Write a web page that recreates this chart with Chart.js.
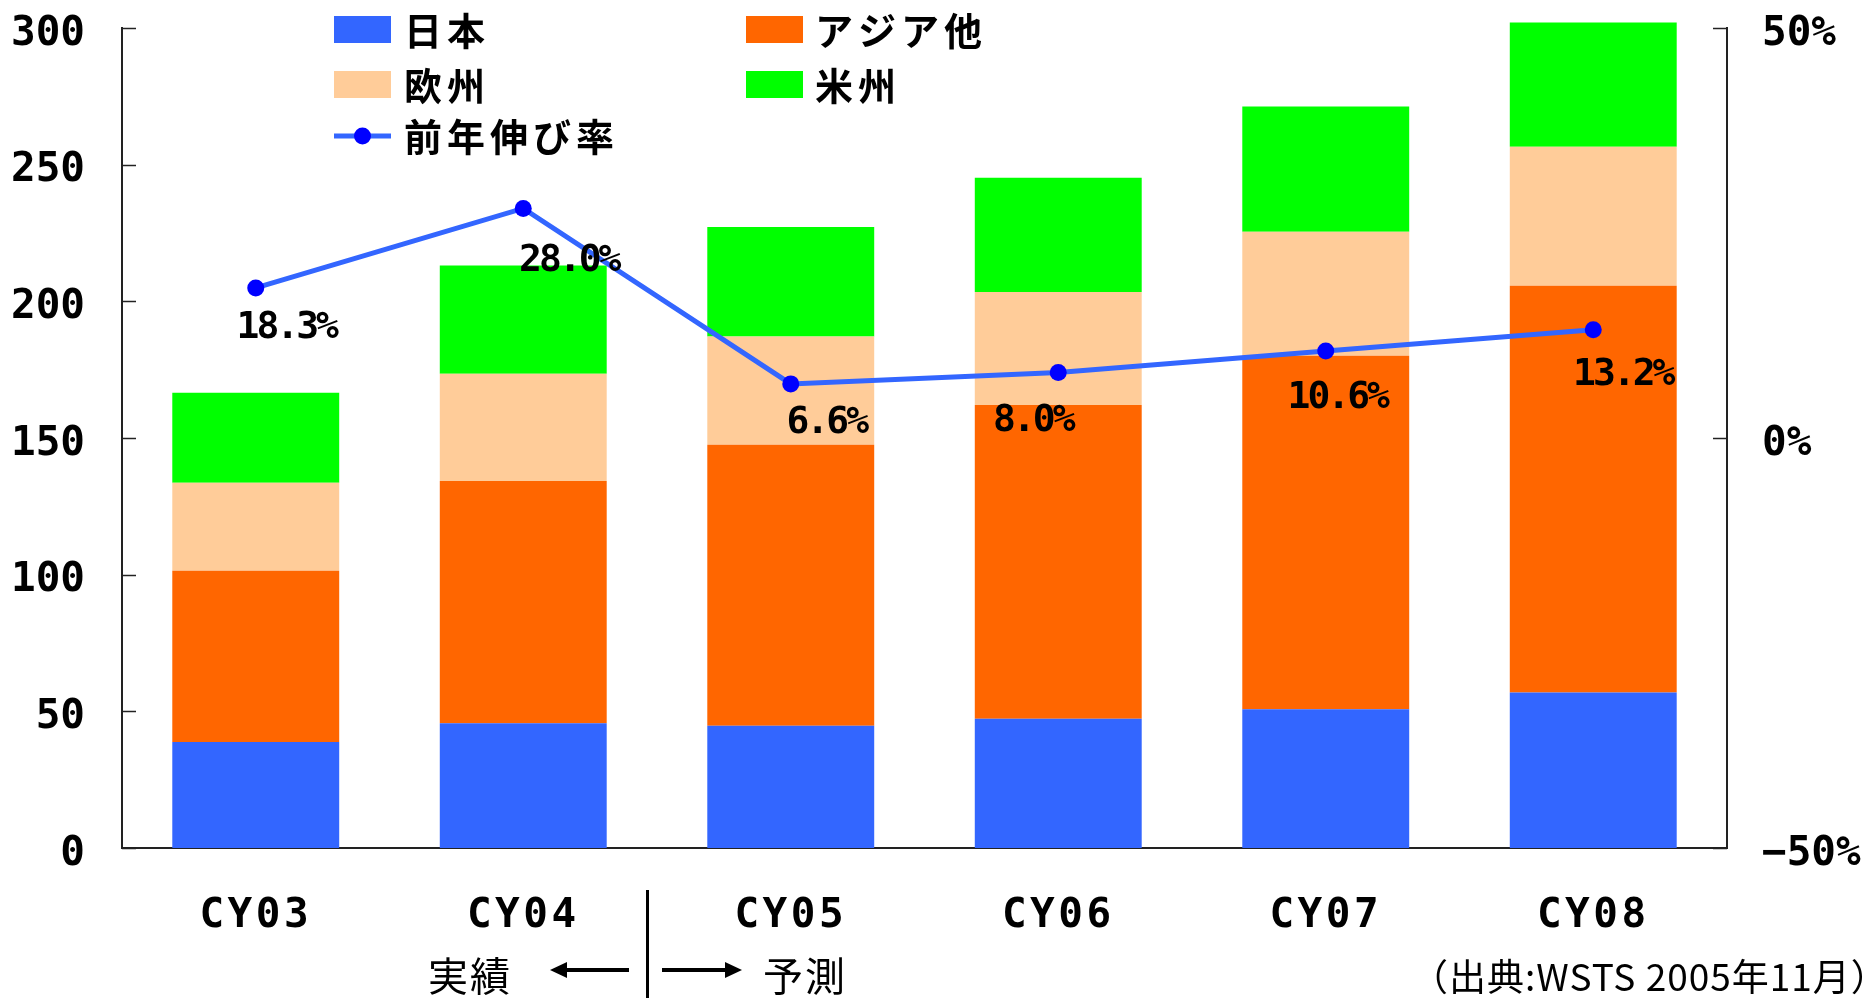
<!DOCTYPE html>
<html><head><meta charset="utf-8">
<script src="https://cdn.jsdelivr.net/npm/chart.js@4.4.1/dist/chart.umd.min.js"></script>
<style>html,body{margin:0;padding:0;background:#fff;overflow:hidden}</style>
</head><body>
<canvas id="c" width="1863" height="998" style="display:block;width:1863px;height:998px"></canvas>
<script>
const categories = ['CY03','CY04','CY05','CY06','CY07','CY08'];
const japan     = [38.8, 45.6, 44.7, 47.3, 50.8, 56.9];
const asiaOther = [62.6, 88.7, 102.8, 114.8, 129.3, 148.8];
const europe    = [32.2, 39.2, 39.6, 41.3, 45.4, 50.9];
const americas  = [33.0, 39.6, 40.1, 41.8, 45.8, 45.4];
const growthRate = [18.3, 28.0, 6.6, 8.0, 10.6, 13.2];
const leftTickLabels = ['0','50','100','150','200','250','300'];
const rightTickLabels = ['\u221250%','0%','50%'];
const seriesNames = ['日本','アジア他','欧州','米州','前年伸び率'];
const noteLeft = '実績';
const noteRight = '予測';
const sourceNote = '（出典:WSTS 2005年11月）';

const MONO = "'DejaVu Sans Mono','Liberation Mono',monospace";
const CJK = "'Noto Sans CJK JP','Noto Sans',sans-serif";

const spacingPlugin = {
  id: 'spacing',
  afterLayout(chart) {
    const sp = {x: ['3.5px', 0], y: ['0px', 6], y1: ['0px', 6]};
    for (const id in sp) {
      const s = chart.scales[id];
      if (!s || s._spWrapped) continue;
      const orig = s.drawLabels;
      s.drawLabels = function (ca) {
        const c = this.ctx; c.save(); c.letterSpacing = sp[id][0]; c.translate(0, sp[id][1]);
        orig.call(this, ca); c.restore();
      };
      s._spWrapped = true;
    }
  }
};

const extrasPlugin = {
  id: 'extras',
  afterDraw(chart) {
    const ctx = chart.ctx;
    const ca = chart.chartArea;
    // inner ticks
    ctx.save();
    ctx.strokeStyle = '#222'; ctx.lineWidth = 1.5;
    const ys = chart.scales.y, y1 = chart.scales.y1;
    ys.ticks.forEach((t) => {
      const py = Math.round(ys.getPixelForValue(t.value)) + 0.5;
      ctx.beginPath(); ctx.moveTo(ca.left, py); ctx.lineTo(ca.left + 14, py); ctx.stroke();
    });
    y1.ticks.forEach((t) => {
      const py = Math.round(y1.getPixelForValue(t.value)) + 0.5;
      ctx.beginPath(); ctx.moveTo(ca.right, py); ctx.lineTo(ca.right - 14, py); ctx.stroke();
    });
    ctx.restore();

    // data labels for growth line
    const lineIdx = 4;
    const meta = chart.getDatasetMeta(lineIdx);
    const offs = [[32,40],[47,53],[37,39],[-24,49],[13,47],[31,45]];
    ctx.save();
    ctx.font = "bold 38px " + MONO;
    ctx.letterSpacing = '-3px';
    ctx.fillStyle = '#000';
    ctx.textAlign = 'center'; ctx.textBaseline = 'middle';
    meta.data.forEach((pt, i) => {
      const v = chart.data.datasets[lineIdx].data[i];
      ctx.fillText(v.toFixed(1) + '%', pt.x + offs[i][0] - 1.5, pt.y + offs[i][1]);
    });
    ctx.restore();

    // legend (2 columns)
    const colBox = [334, 746], colText = [404, 815], rowY = [29.5, 84.5, 136];
    ctx.save();
    ctx.font = "bold 38px " + CJK;
    ctx.letterSpacing = '5px';
    ctx.textBaseline = 'middle'; ctx.textAlign = 'left';
    chart.data.datasets.forEach((ds, i) => {
      const col = i % 2, row = Math.floor(i / 2);
      const bx = colBox[col], cy = rowY[row];
      if (ds.type === 'line') {
        ctx.strokeStyle = ds.borderColor; ctx.lineWidth = 5;
        ctx.beginPath(); ctx.moveTo(bx, cy); ctx.lineTo(bx + 57, cy); ctx.stroke();
        ctx.fillStyle = ds.pointBackgroundColor;
        ctx.beginPath(); ctx.arc(bx + 28.5, cy, 8.5, 0, Math.PI * 2); ctx.fill();
      } else {
        ctx.fillStyle = ds.backgroundColor;
        ctx.fillRect(bx, cy - 13.5, 57, 27);
      }
      ctx.fillStyle = '#000';
      ctx.fillText(ds.label, colText[col], cy + 1);
    });
    ctx.restore();

    // actual / forecast divider
    ctx.save();
    ctx.strokeStyle = '#000'; ctx.fillStyle = '#000';
    ctx.lineWidth = 3;
    ctx.beginPath(); ctx.moveTo(647.5, 890); ctx.lineTo(647.5, 998); ctx.stroke();
    const ay = 970;
    ctx.lineWidth = 4;
    ctx.beginPath(); ctx.moveTo(629, ay); ctx.lineTo(562, ay); ctx.stroke();
    ctx.beginPath(); ctx.moveTo(550, ay); ctx.lineTo(567, ay - 8); ctx.lineTo(567, ay + 8); ctx.closePath(); ctx.fill();
    ctx.beginPath(); ctx.moveTo(662, ay); ctx.lineTo(730, ay); ctx.stroke();
    ctx.beginPath(); ctx.moveTo(742, ay); ctx.lineTo(725, ay - 8); ctx.lineTo(725, ay + 8); ctx.closePath(); ctx.fill();
    ctx.font = "40px " + CJK;
    ctx.letterSpacing = '2px';
    ctx.textBaseline = 'middle'; ctx.textAlign = 'left';
    ctx.fillText(noteLeft, 428, 976);
    ctx.fillText(noteRight, 763, 976);
    ctx.font = "37px " + CJK;
    ctx.letterSpacing = '1px';
    ctx.fillText(sourceNote, 1411, 977);
    ctx.restore();
  }
};

const barCommon = { stack: 's', yAxisID: 'y', order: 1, barPercentage: 0.624, categoryPercentage: 1.0, borderWidth: 0, clip: false };
const tickFont = { family: MONO, size: 41, weight: 'bold' };

new Chart(document.getElementById('c'), {
  data: {
    labels: categories,
    datasets: [
      Object.assign({ type: 'bar', label: seriesNames[0], data: japan, backgroundColor: '#3366FF' }, barCommon),
      Object.assign({ type: 'bar', label: seriesNames[1], data: asiaOther, backgroundColor: '#FF6600' }, barCommon),
      Object.assign({ type: 'bar', label: seriesNames[2], data: europe, backgroundColor: '#FFCC99' }, barCommon),
      Object.assign({ type: 'bar', label: seriesNames[3], data: americas, backgroundColor: '#00FF00' }, barCommon),
      { type: 'line', label: seriesNames[4], data: growthRate, yAxisID: 'y1', order: 0,
        borderColor: '#3366FF', borderWidth: 5, tension: 0,
        pointBackgroundColor: '#0000FF', pointBorderColor: '#0000FF', pointBorderWidth: 0, pointRadius: 8.5 }
    ]
  },
  options: {
    responsive: false,
    animation: false,
    devicePixelRatio: 1,
    layout: { padding: { top: 28, left: 0, right: 0, bottom: 0 } },
    plugins: { legend: { display: false }, tooltip: { enabled: false } },
    scales: {
      x: {
        stacked: true,
        offset: true,
        grid: { display: false, drawTicks: false },
        border: { display: true, color: '#222', width: 2 },
        ticks: { color: '#000', font: tickFont, padding: 44, maxRotation: 0 },
        afterFit(s) { s.height = 150; s.paddingLeft = 0; s.paddingRight = 0; }
      },
      y: {
        position: 'left', stacked: true, min: 0, max: 300,
        grid: { display: false, drawTicks: false },
        border: { display: true, color: '#222', width: 2 },
        ticks: { stepSize: 50, color: '#000', padding: 37, font: tickFont,
          callback: (v, i) => leftTickLabels[i] },
        afterFit(s) { s.width = 122; s.paddingTop = 0; s.paddingBottom = 0; }
      },
      y1: {
        position: 'right', min: -50, max: 50,
        grid: { display: false, drawTicks: false },
        border: { display: true, color: '#222', width: 2 },
        ticks: { stepSize: 50, color: '#000', padding: 35, font: tickFont,
          callback: (v, i) => rightTickLabels[i] },
        afterFit(s) { s.width = 136; s.paddingTop = 0; s.paddingBottom = 0; }
      }
    }
  },
  plugins: [spacingPlugin, extrasPlugin]
});
</script>
</body></html>
